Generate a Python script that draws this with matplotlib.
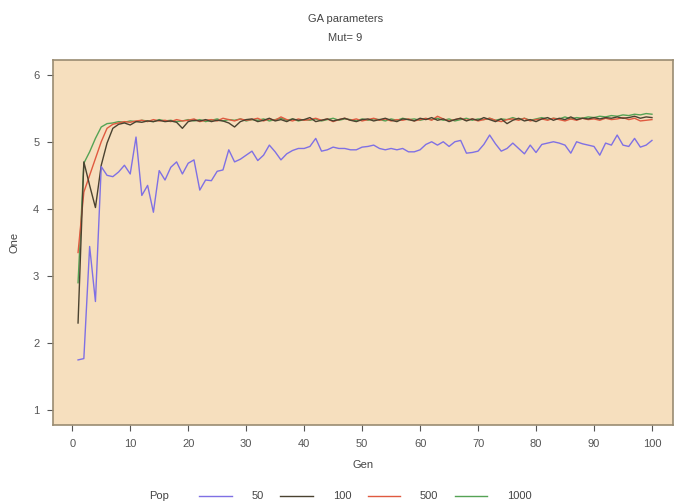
import matplotlib
matplotlib.use("Agg")
import matplotlib.pyplot as plt
from matplotlib.lines import Line2D

gens = list(range(1, 101))

pop_50 = [
    1.75, 1.77, 3.44, 2.62, 4.63, 4.50, 4.48, 4.55, 4.65, 4.52,
    5.07, 4.20, 4.35, 3.95, 4.57, 4.43, 4.62, 4.70, 4.52, 4.68,
    4.73, 4.28, 4.43, 4.42, 4.56, 4.58, 4.88, 4.70, 4.74, 4.80,
    4.86, 4.72, 4.80, 4.95, 4.85, 4.73, 4.82, 4.87, 4.90, 4.90,
    4.93, 5.05, 4.86, 4.88, 4.92, 4.90, 4.90, 4.88, 4.88, 4.92,
    4.93, 4.95, 4.90, 4.88, 4.90, 4.88, 4.90, 4.85, 4.85, 4.88,
    4.96, 5.00, 4.95, 5.00, 4.93, 5.00, 5.02, 4.83, 4.84, 4.86,
    4.96, 5.10, 4.97, 4.86, 4.90, 4.98, 4.90, 4.82, 4.95, 4.84,
    4.96, 4.98, 5.00, 4.98, 4.95, 4.83, 5.00, 4.97, 4.95, 4.93,
    4.80, 4.98, 4.95, 5.10, 4.95, 4.93, 5.05, 4.92, 4.95, 5.02,
]

pop_100 = [
    2.30, 4.70, 4.35, 4.02, 4.65, 4.98, 5.20, 5.26, 5.28, 5.25,
    5.30, 5.29, 5.31, 5.30, 5.32, 5.30, 5.31, 5.29, 5.20, 5.30,
    5.32, 5.31, 5.33, 5.30, 5.32, 5.31, 5.28, 5.22, 5.30, 5.33,
    5.34, 5.30, 5.32, 5.35, 5.31, 5.33, 5.30, 5.34, 5.32, 5.33,
    5.36, 5.30, 5.32, 5.34, 5.31, 5.33, 5.35, 5.32, 5.30, 5.33,
    5.34, 5.31, 5.33, 5.35, 5.32, 5.30, 5.34, 5.33, 5.31, 5.35,
    5.33, 5.36, 5.32, 5.34, 5.30, 5.33, 5.35, 5.31, 5.34, 5.32,
    5.36, 5.33, 5.30, 5.34, 5.27, 5.32, 5.35, 5.31, 5.33, 5.30,
    5.34, 5.36, 5.32, 5.35, 5.33, 5.37, 5.33, 5.35, 5.34, 5.36,
    5.34, 5.36, 5.35, 5.37, 5.35, 5.36, 5.38, 5.35, 5.37, 5.36,
]

pop_500 = [
    3.35, 4.25, 4.50, 4.75, 5.00, 5.20, 5.26, 5.28, 5.30, 5.29,
    5.31, 5.32, 5.30, 5.33, 5.31, 5.32, 5.30, 5.33, 5.31, 5.32,
    5.34, 5.30, 5.32, 5.33, 5.31, 5.35, 5.33, 5.31, 5.34, 5.32,
    5.33, 5.35, 5.31, 5.34, 5.32, 5.37, 5.33, 5.31, 5.34, 5.32,
    5.33, 5.35, 5.32, 5.34, 5.30, 5.33, 5.35, 5.32, 5.34, 5.31,
    5.33, 5.35, 5.32, 5.34, 5.31, 5.33, 5.32, 5.34, 5.31, 5.33,
    5.35, 5.32, 5.38, 5.34, 5.31, 5.33, 5.35, 5.32, 5.34, 5.31,
    5.33, 5.35, 5.32, 5.30, 5.33, 5.34, 5.32, 5.35, 5.31, 5.33,
    5.34, 5.32, 5.35, 5.33, 5.31, 5.34, 5.32, 5.35, 5.33, 5.34,
    5.32, 5.35, 5.33, 5.34, 5.36, 5.33, 5.35, 5.31, 5.32, 5.33,
]

pop_1000 = [
    2.90, 4.68, 4.85, 5.05, 5.22, 5.27, 5.28, 5.30, 5.29, 5.31,
    5.30, 5.32, 5.31, 5.30, 5.33, 5.31, 5.32, 5.30, 5.31, 5.33,
    5.31, 5.33, 5.30, 5.32, 5.34, 5.31, 5.33, 5.32, 5.34, 5.31,
    5.33, 5.32, 5.34, 5.31, 5.33, 5.35, 5.32, 5.34, 5.31, 5.33,
    5.32, 5.34, 5.31, 5.33, 5.35, 5.32, 5.34, 5.33, 5.31, 5.34,
    5.32, 5.34, 5.33, 5.31, 5.34, 5.32, 5.35, 5.33, 5.34, 5.32,
    5.34, 5.33, 5.35, 5.32, 5.34, 5.31, 5.33, 5.35, 5.32, 5.34,
    5.33, 5.35, 5.32, 5.34, 5.33, 5.36, 5.33, 5.35, 5.32, 5.34,
    5.36, 5.33, 5.35, 5.34, 5.37, 5.34, 5.36, 5.35, 5.37, 5.36,
    5.38, 5.37, 5.39, 5.38, 5.40, 5.39, 5.41, 5.40, 5.42, 5.41,
]

series_labels = ["50", "100", "500", "1000"]
series_colors = ["#7f70e4", "#4a4230", "#e05a40", "#55a355"]
x_ticks = list(range(0, 101, 10))
y_ticks = [1, 2, 3, 4, 5, 6]

plt.rcParams["font.family"] = ["Liberation Sans", "DejaVu Sans"]

fig = plt.figure(figsize=(6.81, 5.03), dpi=100)
ax = fig.add_axes([0.078, 0.155, 0.910, 0.726])
ax.set_facecolor("#f6dfbe")

# green first so black/red sit on top like the original
draw_order = [3, 2, 1, 0]
all_series = [pop_50, pop_100, pop_500, pop_1000]
for i in draw_order:
    ax.plot(gens, all_series[i], color=series_colors[i], lw=1.0, zorder=2 + (3 - i))

ax.set_xlim(-3.3, 103.6)
ax.set_ylim(0.78, 6.22)
ax.set_xticks(x_ticks)
ax.set_yticks(y_ticks)
for sp in ax.spines.values():
    sp.set_color("#9a8c72")
    sp.set_linewidth(1.2)
ax.tick_params(colors="#555555", labelsize=8, length=4, width=0.8, pad=6)

ax.set_xlabel("Gen", fontsize=8, color="#444444", labelpad=8)
ax.set_ylabel("One", fontsize=8, color="#444444", labelpad=10)

fig.text(0.507, 0.962, "GA parameters", ha="center", va="center", fontsize=8, color="#444444")
fig.text(0.507, 0.925, "Mut= 9", ha="center", va="center", fontsize=8, color="#444444")

handles = [Line2D([], [], color=c, lw=1.0) for c in series_colors]
fig.legend(handles, series_labels, loc="center left", bbox_to_anchor=(0.278, 0.013),
           ncol=4, frameon=False, fontsize=8, handlelength=2.9, handletextpad=1.8,
           columnspacing=1.5, labelcolor="#444444")
fig.text(0.233, 0.013, "Pop", ha="center", va="center", fontsize=8, color="#444444")

fig.savefig("out.png", dpi=100, facecolor="white")
